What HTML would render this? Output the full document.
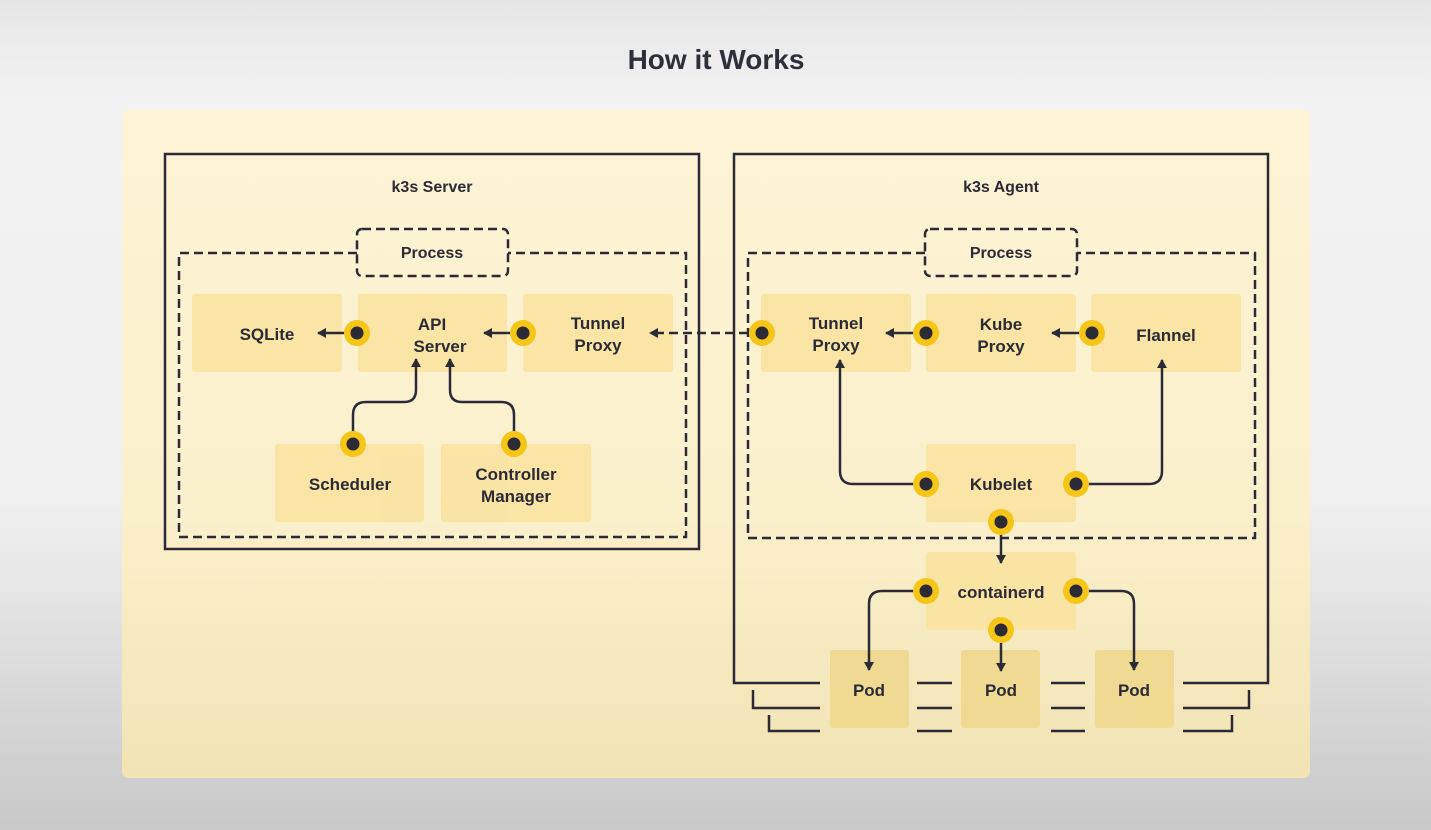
<!DOCTYPE html>
<html><head><meta charset="utf-8"><style>
html,body{margin:0;padding:0;width:1431px;height:830px;overflow:hidden}
body{background:linear-gradient(#e6e6e6 0%,#f2f2f2 12%,#f0f0f0 60%,#c8c8c8 100%)}
svg{display:block}
text{font-family:"Liberation Sans",sans-serif;font-weight:bold;fill:#2b2a35}
</style></head><body>
<svg width="1431" height="830" viewBox="0 0 1431 830">
<defs>
<linearGradient id="pg" x1="0" y1="0" x2="0" y2="1">
<stop offset="0" stop-color="#fdf4d6"/><stop offset="0.6" stop-color="#fbf0cc"/><stop offset="1" stop-color="#f1e3b4"/>
</linearGradient>
<marker id="ah" markerWidth="10" markerHeight="10" refX="8" refY="5" orient="auto" markerUnits="userSpaceOnUse">
<path d="M0,0 L9,5 L0,10 Z" fill="#2b2a35"/></marker>
</defs>
<text x="716" y="69" text-anchor="middle" font-size="28" style="fill:#2d2f3a">How it Works</text>
<rect x="122" y="110" width="1188" height="668" rx="6" fill="url(#pg)"/>
<g fill="none" stroke="#2b2a35" stroke-width="2.5">
<rect x="165" y="154" width="534" height="395"/>
<path d="M820,683 H734 V154 H1268 V683 H1183"/>
<path d="M753,690 V708 H820 M769,715 V731 H820 M1249,690 V708 H1183 M1232,715 V731 H1183 M917,683 H952 M917,708 H952 M917,731 H952 M1051,683 H1085 M1051,708 H1085 M1051,731 H1085"/>
</g>
<g fill="none" stroke="#2b2a35" stroke-width="2.5" stroke-dasharray="9,5">
<path d="M357,253 H179 V537 H686 V253 H508"/>
<rect x="357" y="229" width="151" height="47" rx="5"/>
<path d="M925,253 H748 V538 H1255 V253 H1077"/>
<rect x="925" y="229" width="152" height="47" rx="5"/>
</g>
<text x="432" y="192" text-anchor="middle" font-size="16">k3s Server</text>
<text x="1001" y="192" text-anchor="middle" font-size="16">k3s Agent</text>
<text x="432" y="258" text-anchor="middle" font-size="16">Process</text>
<text x="1001" y="258" text-anchor="middle" font-size="16">Process</text>
<g fill="#fae39f" opacity="0.85">
<rect x="192" y="294" width="150" height="78" rx="3"/>
<rect x="358" y="294" width="149" height="78" rx="3"/>
<rect x="523" y="294" width="150" height="78" rx="3"/>
<rect x="275" y="444" width="149" height="78" rx="3"/>
<rect x="441" y="444" width="150" height="78" rx="3"/>
<rect x="761" y="294" width="150" height="78" rx="3"/>
<rect x="926" y="294" width="150" height="78" rx="3"/>
<rect x="1091" y="294" width="150" height="78" rx="3"/>
<rect x="926" y="444" width="150" height="78" rx="3"/>
<rect x="926" y="552" width="150" height="78" rx="3"/>
</g>
<g fill="#f0d88e" opacity="0.9">
<rect x="830" y="650" width="79" height="78" rx="3"/>
<rect x="961" y="650" width="79" height="78" rx="3"/>
<rect x="1095" y="650" width="79" height="78" rx="3"/>
</g>
<path d="M762,333 H650" fill="none" stroke="#2b2a35" stroke-width="2.5" stroke-dasharray="9,5" marker-end="url(#ah)"/>
<g fill="none" stroke="#2b2a35" stroke-width="2.5" marker-end="url(#ah)">
<path d="M357,333 H318"/>
<path d="M523,333 H484"/>
<path d="M353,444 V415 Q353,402 366,402 H404 Q416,402 416,390 V359"/>
<path d="M514,444 V415 Q514,402 501,402 H462 Q450,402 450,390 V359"/>
<path d="M926,333 H886"/>
<path d="M1092,333 H1052"/>
<path d="M926,484 H853 Q840,484 840,471 V360"/>
<path d="M1076,484 H1149 Q1162,484 1162,471 V360"/>
<path d="M1001,522 V563"/>
<path d="M926,591 H882 Q869,591 869,604 V670"/>
<path d="M1076,591 H1121 Q1134,591 1134,604 V670"/>
<path d="M1001,630 V671"/>
</g>
<g>
<g fill="#f5c518">
<circle cx="357" cy="333" r="13"/><circle cx="523" cy="333" r="13"/><circle cx="353" cy="444" r="13"/><circle cx="514" cy="444" r="13"/>
<circle cx="762" cy="333" r="13"/><circle cx="926" cy="333" r="13"/><circle cx="1092" cy="333" r="13"/><circle cx="926" cy="484" r="13"/><circle cx="1076" cy="484" r="13"/><circle cx="1001" cy="522" r="13"/><circle cx="926" cy="591" r="13"/><circle cx="1076" cy="591" r="13"/><circle cx="1001" cy="630" r="13"/>
</g>
<g fill="#2b2a35">
<circle cx="357" cy="333" r="6.5"/><circle cx="523" cy="333" r="6.5"/><circle cx="353" cy="444" r="6.5"/><circle cx="514" cy="444" r="6.5"/>
<circle cx="762" cy="333" r="6.5"/><circle cx="926" cy="333" r="6.5"/><circle cx="1092" cy="333" r="6.5"/><circle cx="926" cy="484" r="6.5"/><circle cx="1076" cy="484" r="6.5"/><circle cx="1001" cy="522" r="6.5"/><circle cx="926" cy="591" r="6.5"/><circle cx="1076" cy="591" r="6.5"/><circle cx="1001" cy="630" r="6.5"/>
</g>
</g>
<g font-size="17" text-anchor="middle">
<text x="267" y="340">SQLite</text>
<text x="432" y="330">API</text><text x="440" y="352">Server</text>
<text x="598" y="329">Tunnel</text><text x="598" y="351">Proxy</text>
<text x="350" y="490">Scheduler</text>
<text x="516" y="480">Controller</text><text x="516" y="502">Manager</text>
<text x="836" y="329">Tunnel</text><text x="836" y="351">Proxy</text>
<text x="1001" y="330">Kube</text><text x="1001" y="352">Proxy</text>
<text x="1166" y="341">Flannel</text>
<text x="1001" y="490">Kubelet</text>
<text x="1001" y="598">containerd</text>
<text x="869" y="696">Pod</text><text x="1001" y="696">Pod</text><text x="1134" y="696">Pod</text>
</g>
</svg>
</body></html>
